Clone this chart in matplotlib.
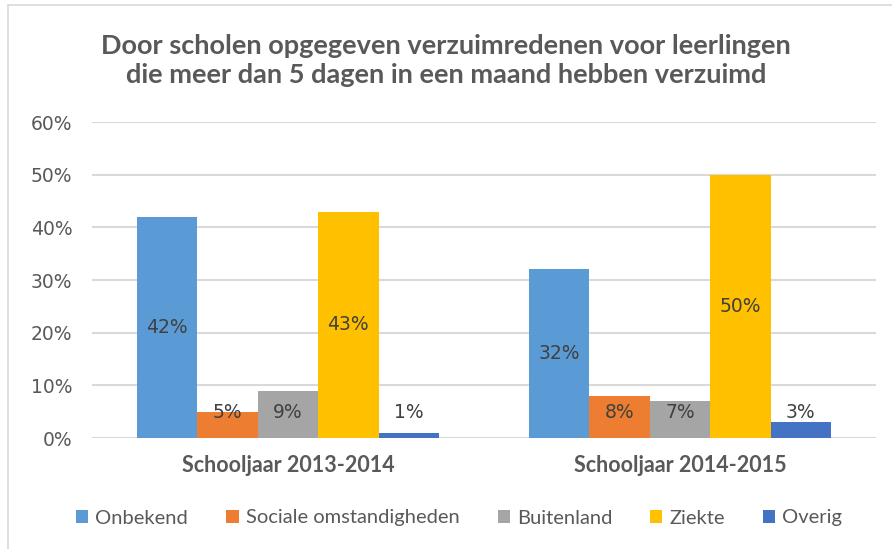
import numpy as np
import matplotlib.pyplot as plt
from matplotlib.patches import Rectangle

# data
jaren = ['Schooljaar 2013-2014', 'Schooljaar 2014-2015']
redenen = ['Onbekend', 'Sociale omstandigheden', 'Buitenland', 'Ziekte', 'Overig']
onbekend = [42, 32]
sociaal = [5, 8]
buitenland = [9, 7]
ziekte = [43, 50]
overig = [1, 3]
yticks = [0, 10, 20, 30, 40, 50, 60]

kleuren = ['#5B9BD5', '#ED7D31', '#A5A5A5', '#FFC000', '#4472C4']
series = [onbekend, sociaal, buitenland, ziekte, overig]

plt.rcParams['font.family'] = ['Lato', 'DejaVu Sans']

fig = plt.figure(figsize=(8.92, 5.49), dpi=100)
ax = fig.add_axes([92/892, 1-438/549, 784/892, 316/549])

x = np.arange(len(jaren))
w = 0.154
for i, (naam, vals, kl) in enumerate(zip(redenen, series, kleuren)):
    pos = x + (i - 2) * w
    ax.bar(pos, vals, width=w, color=kl, label=naam, zorder=3)
    for p, v in zip(pos, vals):
        ax.text(p, max(v/2, 4.8), '%d%%' % v, ha='center', va='center',
                fontsize=13.5, color='#404040', family='DejaVu Sans', zorder=4)

ax.set_xlim(-0.5, 1.5)
ax.set_ylim(0, 60)
ax.set_yticks(yticks)
ax.set_yticklabels(['%d%%' % t for t in yticks], fontsize=13.5, color='#595959',
                   family='DejaVu Sans')
ax.set_xticks(x)
ax.set_xticklabels(jaren, fontsize=15.5, fontweight='bold', color='#595959')
ax.tick_params(axis='y', length=0, pad=14)
ax.tick_params(axis='x', length=0, pad=12)
ax.grid(axis='y', color='#D9D9D9', linewidth=1.5, zorder=0)
for s in ax.spines.values():
    s.set_visible(False)

fig.text(0.5, 1-46/549, 'Door scholen opgegeven verzuimredenen voor leerlingen',
         ha='center', va='center', fontsize=19.5, fontweight='bold', color='#595959')
fig.text(0.5, 1-75/549, 'die meer dan 5 dagen in een maand hebben verzuimd',
         ha='center', va='center', fontsize=19.5, fontweight='bold', color='#595959')

fig.legend(loc='center', bbox_to_anchor=(0.515, 1-518/549), ncol=5, frameon=False,
           fontsize=14.5, handlelength=0.6, handleheight=0.6, handletextpad=0.35,
           columnspacing=1.9, labelcolor='#595959')

# chart border (only left and top edge visible)
fig.patches.append(Rectangle((8/892, -0.1), 1.2, 1-5/549+0.1, transform=fig.transFigure,
                             fill=False, edgecolor='#D9D9D9', linewidth=1.2))

fig.savefig('out.png', dpi=100)
